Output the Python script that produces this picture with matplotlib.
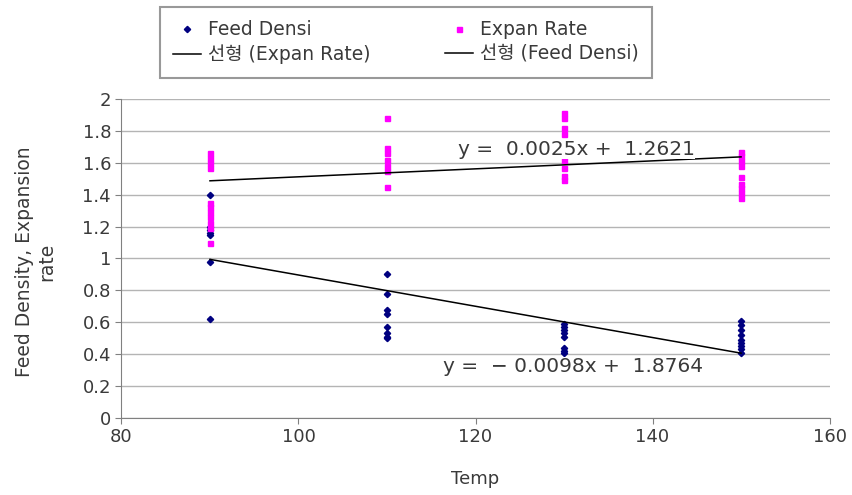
import matplotlib
matplotlib.use("Agg")
import matplotlib.pyplot as plt
import numpy as np

plt.rcParams['font.family'] = ['DejaVu Sans', 'Noto Sans CJK KR']

# Dados
temps = [90, 110, 130, 150]
feed_densi = {
    90: [1.40, 1.20, 1.18, 1.16, 1.15, 0.98, 0.62],
    110: [0.90, 0.78, 0.68, 0.65, 0.57, 0.53, 0.51, 0.50],
    130: [0.59, 0.57, 0.55, 0.53, 0.51, 0.44, 0.42, 0.41],
    150: [0.61, 0.58, 0.55, 0.52, 0.49, 0.47, 0.45, 0.43, 0.41],
}
expan_rate = {
    90: [1.66, 1.63, 1.60, 1.57, 1.35, 1.32, 1.29, 1.26, 1.22, 1.19, 1.10],
    110: [1.88, 1.69, 1.66, 1.62, 1.58, 1.55, 1.45],
    130: [1.91, 1.88, 1.82, 1.78, 1.72, 1.68, 1.62, 1.57, 1.52, 1.49],
    150: [1.67, 1.64, 1.61, 1.58, 1.51, 1.47, 1.44, 1.41, 1.38],
}
# Linhas de tendência (coeficientes mostrados no gráfico)
trend_expan = (0.0025, 1.2621)
trend_feed = (-0.0098, 1.8764)

fd_x = [t for t in temps for _ in feed_densi[t]]
fd_y = [v for t in temps for v in feed_densi[t]]
er_x = [t for t in temps for _ in expan_rate[t]]
er_y = [v for t in temps for v in expan_rate[t]]

txt = '#3a3a3a'
fig = plt.figure(figsize=(8.53, 4.95), dpi=100)
ax = fig.add_axes([0.1424, 0.1556, 0.8301, 0.6444])

ax.set_xlim(80, 160)
ax.set_ylim(0, 2)
ax.set_xticks(np.arange(80, 161, 20))
ax.set_yticks(np.arange(0, 2.01, 0.2))
ax.set_yticklabels(['0', '0.2', '0.4', '0.6', '0.8', '1', '1.2', '1.4', '1.6', '1.8', '2'])
ax.grid(axis='y', color='#b4b4b4', linewidth=1)
ax.set_axisbelow(True)
for s in ['top', 'right']:
    ax.spines[s].set_visible(False)
for s in ['left', 'bottom']:
    ax.spines[s].set_color('#808080')
ax.tick_params(colors=txt, labelsize=13, length=4, color='#808080')

h_fd, = ax.plot(fd_x, fd_y, linestyle='none', marker='D', markersize=3.2,
                color='#000080', label='Feed Densi')
h_er, = ax.plot(er_x, er_y, linestyle='none', marker='s', markersize=3.6,
                color='#ff00ff', label='Expan Rate')

xl = np.array([temps[0], temps[-1]])
h_le, = ax.plot(xl, trend_expan[0] * xl + trend_expan[1], color='black', linewidth=1.1,
                label='선형 (Expan Rate)')
h_lf, = ax.plot(xl, trend_feed[0] * xl + trend_feed[1], color='black', linewidth=1.1,
                label='선형 (Feed Densi)')

ax.text(118.0, 1.685, f'y =  {trend_expan[0]:.4f}x +  {trend_expan[1]:.4f}', fontsize=14.5,
        color=txt, ha='left', va='center', zorder=5,
        bbox=dict(facecolor='white', edgecolor='none', pad=0.5))
ax.text(116.3, 0.32, f'y =  {trend_feed[0]:.4f}x +  {trend_feed[1]:.4f}'.replace('-', '\u2212 '),
        fontsize=14.5, color=txt, ha='left', va='center', zorder=5,
        bbox=dict(facecolor='white', edgecolor='none', pad=0.5))

ax.set_xlabel('Temp', fontsize=13, color=txt, labelpad=17)
ax.set_ylabel('Feed Density, Expansion\nrate', fontsize=13.5, color=txt)
ax.yaxis.set_label_coords(-0.092, 0.49)

leg = fig.legend([h_fd, h_le, h_er, h_lf],
                 ['Feed Densi', '선형 (Expan Rate)', 'Expan Rate', '선형 (Feed Densi)'],
                 ncol=2, loc='upper left',
                 bbox_to_anchor=(160 / 853, 1 - 7 / 495),
                 fontsize=13.5, frameon=True, fancybox=False, edgecolor='#808080',
                 handlelength=1.5, labelspacing=0.3, columnspacing=4.0,
                 borderpad=0.7, handletextpad=0.35, borderaxespad=0)
leg.get_frame().set_linewidth(1.5)
for t in leg.get_texts():
    t.set_color(txt)

fig.savefig('out.png', dpi=100)
